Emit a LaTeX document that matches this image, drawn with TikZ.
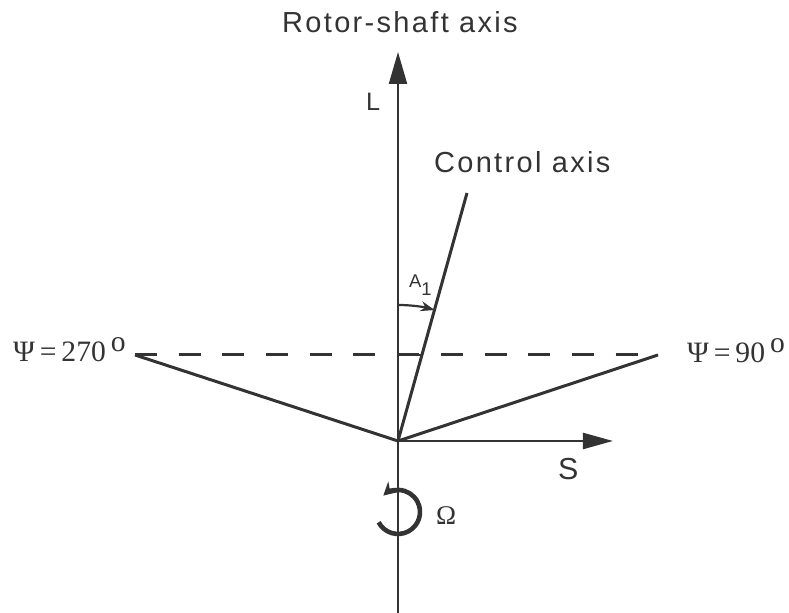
\documentclass[tikz,border=0pt]{standalone}
\usepackage{fontspec}
\newfontfamily\labelfont[LetterSpace=8]{Liberation Sans}
\newfontfamily\greekfont{Liberation Serif}
\usetikzlibrary{arrows.meta}
\tikzset{
	mydash/.style={dashed, dash pattern=on 11pt off 10.85pt, line width=1.5pt},
	blade/.style={line width=1.5pt},
	axislabel/.style={inner sep=0pt, font=\labelfont\fontsize{14.5}{16}\selectfont},
	psilabel/.style={inner sep=0pt, anchor=base west, font=\greekfont\fontsize{14.8}{16}\selectfont}
}
\newcommand{\degsign}{\,\raisebox{5pt}{o}}

\begin{document}
\begin{tikzpicture}[x=0.5pt, y=0.5pt, line width=1.1pt, color=black!80]
	\useasboundingbox (-398,-172) rectangle (391,441);
	\coordinate (O) at (0,0);
	\coordinate (top) at (0,389);
	\coordinate (bottom) at (0,-172);
	\coordinate (S) at (215,0);
	\coordinate (ctrl) at (69,248);
	\coordinate (left) at (-263,86);
	\coordinate (right) at (260,86);
	\coordinate (level) at (0,86);
	\coordinate (cross) at (23.9,86);
	\coordinate (A1 start) at (0,136);
	\coordinate (Omega start) at (-19.4,-81.3);
	\draw[-{Triangle[length=16pt, width=9pt]}] (bottom) -- (top);
	\draw[-{Triangle[length=15pt, width=8pt]}] (O) -- (S);
	\draw[mydash] (left) -- (right);
	\draw (level) -- (cross);
	\draw[blade] (O) -- (ctrl);
	\draw[blade] (O) -- (left);
	\draw[blade] (O) -- (right);
	\draw[-{Stealth[length=7pt, width=5pt]}] (A1 start) arc[start angle=90, end angle=74.4, radius=136];
	\draw[line width=2.3pt, -{Stealth[length=6.5pt, width=7pt]}] (Omega start) arc[start angle=208, end angle=492, radius=22];
	\node[axislabel, anchor=base] (shaft label) at (2,408) {Rotor-shaft axis};
	\node[axislabel, anchor=base west, font=\labelfont\fontsize{12.6}{14}\selectfont] (L label) at (-33,330) {L};
	\node[axislabel, anchor=base west] (control label) at (35,268) {Control axis};
	\node[axislabel, anchor=base west, font=\labelfont\fontsize{15.2}{16}\selectfont] (S label) at (159,-39) {S};
	\node[axislabel, anchor=base west, font=\labelfont\fontsize{9.2}{10}\selectfont] (A1 label) at (10,153) {A\raisebox{-4pt}{1}};
	\node[psilabel, font=\greekfont\fontsize{13.5}{14}\selectfont] (Omega label) at (37,-84) {Ω};
	\node[psilabel] (psi270) at (-386,79) {Ψ\,=\,270\degsign};
	\node[psilabel] (psi90) at (288,78) {Ψ\,=\,90\degsign};
\end{tikzpicture}
\end{document}
